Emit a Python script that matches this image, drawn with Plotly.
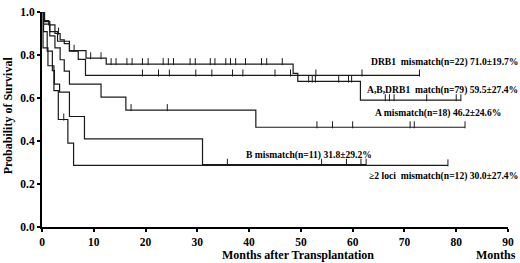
import numpy as np
import plotly.graph_objects as go

# ---- data ----
drb1_t = [0, 0.5, 1.5, 3.0, 5.3, 7.0, 8.4, 72.9]
drb1_s = [1.0, 0.955, 0.909, 0.864, 0.818, 0.78, 0.705, 0.705]
drb1_c = [19.4, 22.5, 24.6, 29.7, 32.8, 36.8, 38.8, 45.0, 48.0, 52.9, 61.8, 72.9]

match_t = [0, 0.4, 1.3, 2.5, 3.5, 4.3, 5.3, 8.5, 12.4, 48.5, 49.4, 61.5, 80.9]
match_s = [1.0, 0.96, 0.94, 0.90, 0.87, 0.853, 0.82, 0.785, 0.758, 0.715, 0.677, 0.59, 0.59]
match_c = [3.2, 6.2, 9.4, 11.4, 13.35, 14.3, 16.4, 17.4, 19.4, 20.5, 23.4, 24.4, 25.4,
           28.6, 29.6, 32.5, 33.4, 35.5, 36.4, 37.4, 39.3, 42.4, 43.4, 46.4,
           51.5, 52.2, 52.8, 57.3, 59.2, 59.8, 66.3, 67.1, 68.0, 74.3, 80.0, 80.9]

a_t = [0, 0.3, 1.5, 2.5, 3.5, 4.3, 5.3, 11.4, 16.2, 41.3, 81.7]
a_s = [1.0, 0.944, 0.889, 0.833, 0.778, 0.725, 0.665, 0.604, 0.544, 0.464, 0.464]
a_c = [17.2, 24.2, 53.1, 56.1, 60.0, 71.1, 71.9, 81.7]

b_t = [0, 0.3, 1.0, 2.0, 2.4, 3.4, 5.3, 8.2, 31.0, 62.6]
b_s = [1.0, 0.909, 0.818, 0.727, 0.665, 0.627, 0.514, 0.41, 0.29, 0.29]
b_c = [35.8, 54.0, 58.8, 61.6, 62.6]

l2_t = [0, 0.2, 1.15, 2.3, 3.15, 5.0, 6.1, 78.4]
l2_s = [1.0, 0.833, 0.75, 0.634, 0.5, 0.39, 0.287, 0.287]
l2_c = [4.2, 78.4]

labels = ["DRB1  mismatch(n=22) 71.0±19.7%",
          "A,B,DRB1  match(n=79) 59.5±27.4%",
          "A mismatch(n=18) 46.2±24.6%",
          "B mismatch(n=11) 31.8±29.2%",
          "≥2 loci  mismatch(n=12) 30.0±27.4%"]
label_x = [63.1, 62.3, 64.0, 39.0, 62.7]
label_y = [0.769, 0.637, 0.529, 0.335, 0.239]

x_ticks = [0, 10, 20, 30, 40, 50, 60, 70, 80, 90]
y_ticks = [0.0, 0.2, 0.4, 0.6, 0.8, 1.0]

# ---- figure ----
W, H = 520, 263
M = dict(l=42, r=10, t=6, b=36)
plot_w = W - M["l"] - M["r"]
plot_h = H - M["t"] - M["b"]
tick_off = 2.5 / plot_h  # censor tick rises above the line

fig = go.Figure()
curves = [(drb1_t, drb1_s, drb1_c), (match_t, match_s, match_c), (a_t, a_s, a_c),
          (b_t, b_s, b_c), (l2_t, l2_s, l2_c)]
for t, s, c in curves:
    fig.add_trace(go.Scatter(x=t, y=s, mode="lines", line=dict(shape="hv", color="#1a1a1a", width=1.2),
                             showlegend=False, hoverinfo="skip"))
    idx = np.searchsorted(np.array(t), np.array(c), side="right") - 1
    cy = np.array(s)[idx] + tick_off
    fig.add_trace(go.Scatter(x=c, y=cy, mode="markers",
                             marker=dict(symbol="line-ns", size=5, line=dict(width=1, color="#1a1a1a")),
                             showlegend=False, hoverinfo="skip"))

font_b = dict(family="Liberation Serif", size=9.6, color="black")
for txt, x, y in zip(labels, label_x, label_y):
    fig.add_annotation(x=x, y=y, text="<b>" + txt + "</b>", showarrow=False, xanchor="left",
                       yanchor="middle", font=font_b)

title_font = dict(family="Liberation Serif", size=12, color="black")
title_y = -(256 - (H - M["b"])) / plot_h
fig.add_annotation(x=49.4, y=title_y, xref="x", yref="paper", yanchor="middle", xanchor="center",
                   text="<b>Months after Transplantation</b>", showarrow=False, font=title_font)
fig.add_annotation(x=87.7, y=title_y, xref="x", yref="paper", yanchor="middle", xanchor="center",
                   text="<b>Months</b>", showarrow=False, font=title_font)
fig.add_annotation(x=-34 / plot_w, y=0.52, xref="paper", yref="paper", xanchor="center", yanchor="middle",
                   text="<b>Probability of Survival</b>", showarrow=False, textangle=-90, font=title_font)

axis_common = dict(showgrid=False, zeroline=False, showline=True, linecolor="black", linewidth=2,
                   ticks="outside", ticklen=3, tickwidth=1.5, tickcolor="black",
                   tickfont=dict(family="Liberation Serif", size=11.5, color="black"))
fig.update_xaxes(range=[0, 90], tickvals=x_ticks, ticktext=["<b>%d</b>" % v for v in x_ticks], **axis_common)
fig.update_yaxes(range=[0, 1.0], tickvals=y_ticks, ticktext=["<b>%.1f</b>" % v for v in y_ticks], **axis_common)

fig.update_layout(width=W, height=H, margin=M, plot_bgcolor="white", paper_bgcolor="white")
fig.write_html("out.html", config={"displayModeBar": False},
               post_script="document.body.style.margin='0';document.body.style.overflow='hidden';")
